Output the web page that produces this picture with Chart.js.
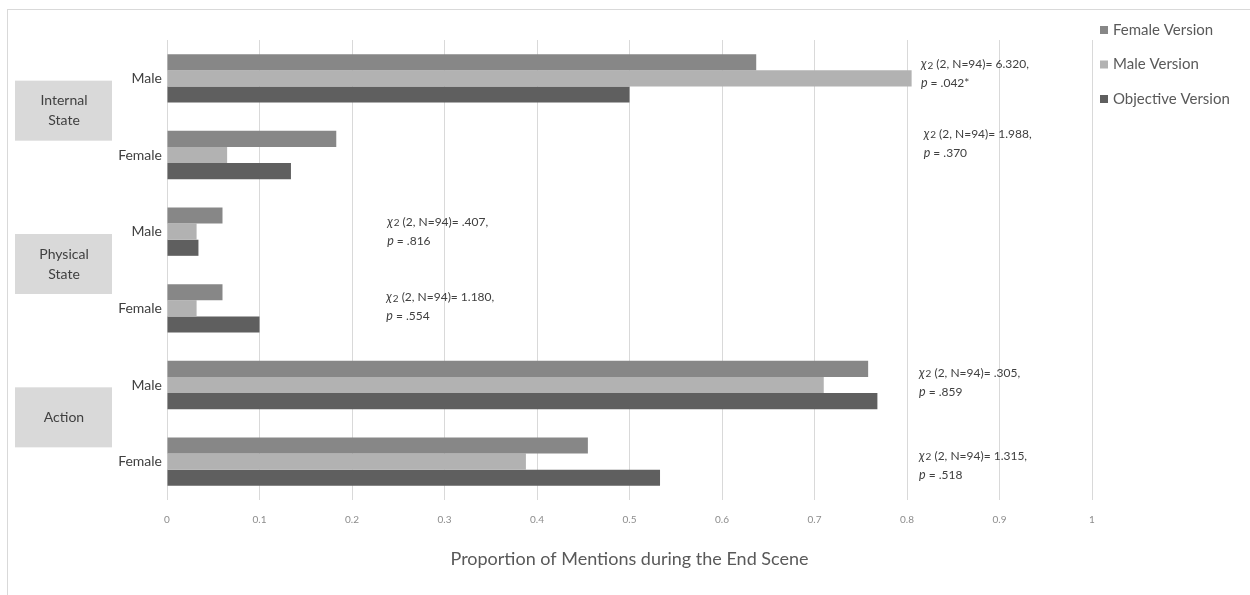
<!DOCTYPE html>
<html>
<head>
<meta charset="utf-8">
<script src="https://cdn.jsdelivr.net/npm/chart.js@4.4.1/dist/chart.umd.min.js"></script>
<style>
body { margin: 0; background: #fff; }
#wrap { position: relative; width: 1250px; height: 595px; overflow: hidden; }
#frame { position: absolute; left: 7px; top: 9px; right: 0; bottom: -5px; border-left: 1px solid #d9d9d9; border-top: 1px solid #d9d9d9; }
#myChart { position: absolute; left: 0; top: 0; }
</style>
</head>
<body>
<div id="wrap">
  <div id="frame"></div>
  <canvas id="myChart" width="1250" height="595"></canvas>
</div>
<script>
// rows top to bottom
let rowLabels = ['Male', 'Female', 'Male', 'Female', 'Male', 'Female'];
let groupLabels = [['Internal', 'State'], ['Physical', 'State'], ['Action']];

let femaleVersion = [0.637, 0.183, 0.060, 0.060, 0.758, 0.455];
let maleVersion = [0.805, 0.065, 0.032, 0.032, 0.710, 0.388];
let objectiveVersion = [0.500, 0.134, 0.034, 0.100, 0.768, 0.533];

let chiValues = ['6.320', '1.988', '.407', '1.180', '.305', '1.315'];
let pValues = ['.042*', '.370', '.816', '.554', '.859', '.518'];

const FONT = 'Lato, "Open Sans", sans-serif';

function drawStat(ctx, x, y, chi, p) {
    ctx.textAlign = 'left';
    ctx.textBaseline = 'middle';
    ctx.fillStyle = '#404040';
    ctx.font = 'italic 12.5px ' + FONT;
    ctx.fillText('\u03C7', x, y);
    let w = ctx.measureText('\u03C7').width + 1;
    ctx.font = '10px ' + FONT;
    ctx.fillText('2', x + w, y + 1);
    w += ctx.measureText('2').width;
    ctx.font = '12px ' + FONT;
    ctx.fillText(' (2, N=94)= ' + chi + ',', x + w, y);

    ctx.font = 'italic 12.5px ' + FONT;
    ctx.fillText('p', x, y + 19);
    let pw = ctx.measureText('p').width;
    ctx.font = '12px ' + FONT;
    ctx.fillText(' = ' + p, x + pw, y + 19);
}

let extras = {
    id: 'extras',
    afterDraw(chart, args, opts) {
        let ctx = chart.ctx;
        let xs = chart.scales.x;
        let ys = chart.scales.y;
        ctx.save();

        // group boxes on the left
        for (let g = 0; g < groupLabels.length; g++) {
            let cy = (ys.getPixelForValue(g * 2) + ys.getPixelForValue(g * 2 + 1)) / 2 - 6;
            ctx.fillStyle = '#d9d9d9';
            ctx.fillRect(15, cy - 30, 97, 60);
            ctx.fillStyle = '#404040';
            ctx.font = '14px ' + FONT;
            ctx.textAlign = 'center';
            ctx.textBaseline = 'middle';
            let lines = groupLabels[g];
            for (let k = 0; k < lines.length; k++) {
                ctx.fillText(lines[k], 64, cy + (k - (lines.length - 1) / 2) * 20);
            }
        }

        // chi-square notes
        for (let r = 0; r < chiValues.length; r++) {
            let x = xs.getPixelForValue(opts.noteX[r]);
            let y = ys.getPixelForValue(r) + opts.noteDy[r];
            drawStat(ctx, x, y, chiValues[r], pValues[r]);
        }

        // legend
        let ds = chart.data.datasets;
        for (let d = 0; d < ds.length; d++) {
            let ly = 30 + d * 34.5;
            ctx.fillStyle = ds[d].backgroundColor;
            ctx.fillRect(1100, ly - 4, 8, 8);
            ctx.fillStyle = '#595959';
            ctx.font = '15px ' + FONT;
            ctx.textAlign = 'left';
            ctx.textBaseline = 'middle';
            ctx.fillText(ds[d].label, 1113, ly);
        }
        ctx.restore();
    }
};

let data = {
    labels: rowLabels,
    datasets: [
        { label: 'Female Version', data: femaleVersion, backgroundColor: '#878787' },
        { label: 'Male Version', data: maleVersion, backgroundColor: '#b2b2b2' },
        { label: 'Objective Version', data: objectiveVersion, backgroundColor: '#5f5f5f' }
    ]
};

let config = {
    type: 'bar',
    data: data,
    options: {
        indexAxis: 'y',
        responsive: false,
        animation: false,
        datasets: {
            bar: { categoryPercentage: 0.63, barPercentage: 1, borderWidth: 0 }
        },
        layout: { padding: { left: 0, right: 158, top: 40, bottom: 0 } },
        scales: {
            x: {
                min: 0,
                max: 1,
                ticks: {
                    stepSize: 0.1,
                    color: '#8c8c8c',
                    font: { family: FONT, size: 10 },
                    padding: 14,
                    callback: v => String(Math.round(v * 10) / 10)
                },
                grid: { color: '#d9d9d9', drawTicks: false },
                border: { display: false },
                title: {
                    display: true,
                    text: 'Proportion of Mentions during the End Scene',
                    color: '#595959',
                    font: { family: FONT, size: 18 },
                    padding: { top: 0, bottom: 25 }
                },
                afterFit(scale) { scale.height = 95; }
            },
            y: {
                ticks: { color: '#404040', font: { family: FONT, size: 14 }, padding: 5 },
                grid: { display: false, drawTicks: false },
                border: { display: false },
                afterFit(scale) { scale.width = 167; }
            }
        },
        plugins: {
            legend: { display: false },
            tooltip: { enabled: false },
            extras: {
                noteX: [0.815, 0.818, 0.238, 0.237, 0.813, 0.813],
                noteDy: [-14, -21, -10, -11, -12, -6]
            }
        }
    },
    plugins: [extras]
};

let myChart = new Chart(document.getElementById('myChart'), config);
</script>
</body>
</html>
